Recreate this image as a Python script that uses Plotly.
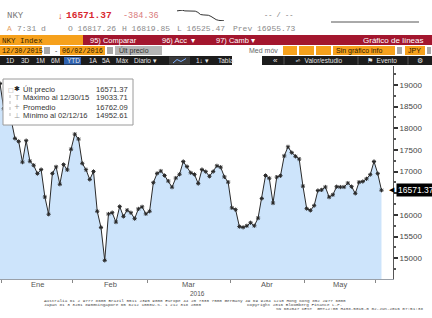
import plotly.graph_objects as go

# ---------------- data ----------------
dates = ["2015-12-30",
         "2016-01-04", "2016-01-05", "2016-01-06", "2016-01-07", "2016-01-08", "2016-01-12", "2016-01-13",
         "2016-01-14", "2016-01-15", "2016-01-18", "2016-01-19", "2016-01-20", "2016-01-21", "2016-01-22",
         "2016-01-25", "2016-01-26", "2016-01-27", "2016-01-28", "2016-01-29",
         "2016-02-01", "2016-02-02", "2016-02-03", "2016-02-04", "2016-02-05", "2016-02-08", "2016-02-09",
         "2016-02-10", "2016-02-12", "2016-02-15", "2016-02-16", "2016-02-17", "2016-02-18", "2016-02-19",
         "2016-02-22", "2016-02-23", "2016-02-24", "2016-02-25", "2016-02-26", "2016-02-29",
         "2016-03-01", "2016-03-02", "2016-03-03", "2016-03-04", "2016-03-07", "2016-03-08", "2016-03-09",
         "2016-03-10", "2016-03-11", "2016-03-14", "2016-03-15", "2016-03-16", "2016-03-17", "2016-03-18",
         "2016-03-22", "2016-03-23", "2016-03-24", "2016-03-25", "2016-03-28", "2016-03-29", "2016-03-30",
         "2016-03-31",
         "2016-04-01", "2016-04-04", "2016-04-05", "2016-04-06", "2016-04-07", "2016-04-08", "2016-04-11",
         "2016-04-12", "2016-04-13", "2016-04-14", "2016-04-15", "2016-04-18", "2016-04-19", "2016-04-20",
         "2016-04-21", "2016-04-22", "2016-04-25", "2016-04-26", "2016-04-27", "2016-04-28",
         "2016-05-02", "2016-05-06", "2016-05-09", "2016-05-10", "2016-05-11", "2016-05-12", "2016-05-13",
         "2016-05-16", "2016-05-17", "2016-05-18", "2016-05-19", "2016-05-20", "2016-05-23", "2016-05-24",
         "2016-05-25", "2016-05-26", "2016-05-27", "2016-05-30", "2016-05-31",
         "2016-06-01", "2016-06-02"]

close = [19033.71,
         18450.98, 18374.00, 18191.32, 17767.34, 17697.96, 17218.96, 17715.63,
         17240.95, 17147.11, 16955.57, 17048.37, 16416.19, 16017.26, 16958.53,
         17110.91, 16708.90, 17163.92, 17041.45, 17518.30,
         17865.23, 17750.68, 17191.25, 17044.99, 16819.59, 17004.30, 16085.44,
         15713.39, 14952.61, 16022.58, 16054.43, 15836.36, 16196.59, 15967.17,
         16111.05, 16052.05, 15915.79, 16140.34, 16188.41, 16026.76,
         16085.51, 16746.55, 16960.16, 17014.78, 16911.32, 16783.15, 16642.20,
         16852.35, 16938.87, 17233.75, 17117.07, 16974.45, 16936.38, 16724.81,
         17048.55, 17000.98, 16892.33, 17002.75, 17134.37, 17103.53, 16878.96,
         16758.67,
         16164.16, 16123.27, 15732.82, 15715.36, 15749.84, 15821.52, 15751.13,
         15928.79, 16381.22, 16911.05, 16848.03, 16275.95, 16874.44, 16906.54,
         17363.62, 17572.49, 17439.30, 17353.28, 17290.49, 16666.05,
         16147.38, 16106.72, 16216.03, 16565.19, 16579.01, 16646.34, 16412.21,
         16466.40, 16652.80, 16644.69, 16646.66, 16736.35, 16654.60, 16498.76,
         16757.35, 16772.46, 16834.84, 16931.45, 17234.98,
         16955.73, 16571.37]

month_labels = {1: "Ene", 2: "Feb", 3: "Mar", 4: "Abr", 5: "May"}
year_label = "2016"

# y-axis ticks (16500 is hidden behind the last-price tag in the reference)
y_tick_vals = [15000, 15500, 16000, 16500, 17000, 17500, 18000, 18500, 19000]
y_tick_text = ["15000", "15500", "16000", "", "17000", "17500", "18000", "18500", "19000"]

# intraday sparkline (header)
intraday = [16800, 16805, 16819, 16800, 16795, 16798, 16790, 16792, 16760, 16700,
            16690, 16685, 16680, 16650, 16600, 16560, 16540, 16530, 16528]

legend_labels = ["Últ precio", "Máximo al 12/30/15", "Promedio", "Mínimo al 02/12/16"]
legend_values = ["16571.37", "19033.71", "16762.09", "14952.61"]
legend_icons = ["✱", "T", "+", "⊥"]

last_price = close[-1]

# ---------------- geometry helpers ----------------
W, H = 432, 318
SANS = "Liberation Sans, Arial, sans-serif"
MONO = "Liberation Mono, DejaVu Sans Mono, monospace"
ORANGE = "#f6a11c"
RED = "#a3162e"
DARK = "#1c1c1c"
GRAY = "#a8a8a8"


def px(x):
    return x / W


def py(y):
    return 1 - y / H


shapes = []
annotations = []


def rect(x0, y0, x1, y1, color, line=None):
    shapes.append(dict(type="rect", xref="paper", yref="paper",
                       x0=px(x0), x1=px(x1), y0=py(y1), y1=py(y0),
                       fillcolor=color, line=line or dict(width=0), layer="above"))


def txt(x, y, s, size=8, color="#333", family=SANS, anchor="left"):
    annotations.append(dict(x=px(x), y=py(y), xref="paper", yref="paper", text=s,
                            showarrow=False, xanchor=anchor, yanchor="middle",
                            borderpad=0, font=dict(size=size, color=color, family=family)))


# ---------------- month ticks computed from dates ----------------
months = [int(d[5:7]) + (0 if d.startswith("2016") else -12) for d in dates]
boundaries = [i - 0.5 for i in range(1, len(dates)) if months[i] != months[i - 1]]
centers = {}
for m in month_labels:
    idx = [i for i, mm in enumerate(months) if mm == m]
    centers[m] = sum(idx) / len(idx)

xs = list(range(len(dates)))
step_px = 3.74
x_range = [0, 393 / step_px]

fig = go.Figure()
fig.add_trace(go.Scatter(
    x=xs, y=close, mode="lines+markers",
    line=dict(color="#2a2a2a", width=1),
    marker=dict(symbol="asterisk-open", size=3.5, line=dict(color="black", width=1)),
    fill="tozeroy", fillcolor="#cde4fb",
    text=dates, hoverinfo="text+y", showlegend=False))

fig.add_trace(go.Scatter(
    x=list(range(len(intraday))), y=intraday, mode="lines",
    line=dict(color="#333", width=1), xaxis="x2", yaxis="y2",
    hoverinfo="skip", showlegend=False))

# ---------------- header ----------------
txt(6, 16, "NKY", 9, "#7a7a7a", MONO)
txt(57, 16, "↓", 9, "#d8262e", SANS)
txt(65, 16, "<b>16571.37</b>", 9.5, "#d8262e", MONO)
txt(122, 16, "-384.36", 8.5, "#d97a7a", MONO)
txt(263, 15, "-- / --", 7, "#777", MONO)
shapes.append(dict(type="line", xref="paper", yref="paper", x0=px(331), x1=px(419),
                   y0=py(22), y1=py(22), line=dict(color="#555", width=1)))

txt(6, 29, "A", 8, "#e7a36a", MONO)
txt(16, 29, "7:31 d", 8, "#888", MONO)
txt(67, 29, "O 16817.26", 8, "#8a8a8a", MONO)
txt(121, 29, "H 16819.85", 8, "#8a8a8a", MONO)
txt(176, 29, "L 16525.47", 8, "#8a8a8a", MONO)
txt(232, 29, "Prev 16955.73", 8, "#8a8a8a", MONO)

# row 3
rect(0, 35, 83, 45, ORANGE)
rect(83, 35, 432, 45, RED)
txt(1, 40.5, "NKY Index", 7.5, "#3a2600", MONO)
txt(89, 40.5, "95) Comparar", 7.5, "white", SANS)
txt(161, 40.5, "96) Acc  ▾", 7.5, "white", SANS)
txt(215, 40.5, "97) Camb ▾", 7.5, "white", SANS)
txt(424, 40.5, "Gráfico de líneas", 8, "white", SANS, "right")

# row 4
rect(0, 46, 42, 55, ORANGE)
rect(44, 47, 50, 54, GRAY)
rect(60, 46, 105, 55, ORANGE)
rect(107, 47, 113, 54, GRAY)
rect(115, 46, 162, 55, "#b5b5b5")
txt(1, 50.5, "12/30/2015", 6.8, "#2a1a00", MONO)
txt(54, 50.5, "-", 7, "#333", SANS)
txt(61, 50.5, "06/02/2016", 6.8, "#2a1a00", MONO)
txt(118, 50.5, "Últ precio", 7, "#333", SANS)
txt(248, 50.5, "Med móv", 7, "#666", SANS)
for a, b in [(283, 297), (299, 314), (316, 331)]:
    rect(a, 46, b, 55, ORANGE)
rect(333, 46, 395, 55, ORANGE)
txt(335, 50.5, "Sin gráfico info", 7, "#2a1a00", SANS)
rect(397, 47, 402, 54, GRAY)
rect(405, 46, 425, 55, ORANGE)
txt(407, 50.5, "JPY", 7, "#2a1a00", SANS)
rect(427, 47, 431, 54, GRAY)

# row 5
rect(0, 56, 232, 65, DARK)
rect(262, 56, 432, 65, DARK)
rect(64, 57, 81, 64.5, "#2f62b0")
for x, s in [(5, "1D"), (20, "3D"), (35, "1M"), (50, "6M"), (66, "YTD"), (88, "1A"),
             (101, "5A"), (115, "Máx"), (133, "Diario ▾")]:
    txt(x, 60.5, s, 6.5, "#e6e6e6", SANS)
rect(169, 56.5, 190, 64.5, "#3a3a3a")
shapes.append(dict(type="path", xref="paper", yref="paper",
                   path=f"M{px(173)},{py(63)} L{px(177)},{py(59.5)} L{px(181)},{py(61.5)} L{px(186)},{py(58.5)}",
                   line=dict(color="#7fb0ff", width=1)))
txt(195, 60.5, "1↓ ▾", 6.5, "#e6e6e6", SANS)
txt(217, 60.5, "Tabla", 6.5, "#e6e6e6", SANS)
txt(272, 60.5, "«", 8, "#e6e6e6", SANS)
txt(294, 60.5, "⩫  Valor/estudio", 6.5, "#e6e6e6", SANS)
txt(366, 60.5, "⚑  Evento", 6.5, "#e6e6e6", SANS)
txt(416, 60.5, "⚙", 7, "#e6e6e6", "DejaVu Sans")
for xs_ in [284, 358, 408]:
    shapes.append(dict(type="line", xref="paper", yref="paper", x0=px(xs_), x1=px(xs_),
                       y0=py(64.5), y1=py(56.5), line=dict(color="#555", width=1)))

# ---------------- legend box ----------------
rect(3, 79, 133, 125, "white", dict(color="#9a9a9a", width=1))
shapes.append(dict(type="line", xref="paper", yref="paper", x0=px(10), x1=px(10),
                   y0=py(116), y1=py(92), line=dict(color="#bbb", width=1, dash="dot")))
txt(7, 89, "□", 6, "#999", "DejaVu Sans")
for k, (lab, val, ic) in enumerate(zip(legend_labels, legend_values, legend_icons)):
    yy = 89 + 9 * k
    txt(13, yy, ic, 7, "#222" if k == 0 else "#999", "DejaVu Sans")
    txt(22, yy, lab, 7.6, "#333", SANS)
    txt(129, yy, val, 7.6, "#333", SANS, "right")

# ---------------- axis labels ----------------
for m, name in month_labels.items():
    annotations.append(dict(x=centers[m], y=py(284.3), xref="x", yref="paper", text=name,
                            showarrow=False, xanchor="center", yanchor="middle", borderpad=0,
                            font=dict(size=7.5, color="#555", family=SANS)))
txt(197, 293.5, year_label, 6.5, "#555", SANS, "center")

# last price tag
annotations.append(dict(x=px(396), y=last_price, xref="paper", yref="y", text="16571.37",
                        showarrow=False, xanchor="left", yanchor="middle", bgcolor="black",
                        borderpad=1, font=dict(size=8.5, color="white", family=SANS)))
annotations.append(dict(x=px(397), y=last_price, xref="paper", yref="y", text="◀",
                        showarrow=False, xanchor="right", yanchor="middle",
                        font=dict(size=7, color="black", family="DejaVu Sans")))

# footer
FOOT = 4.3
txt(43, 300.5, "Australia 61 2 9777 8600 Brazil 5511 2395 9000 Europe 44 20 7330 7500 Germany 49 69 9204 1210 Hong Kong 852 2977 6000", FOOT, "#444", MONO)
txt(43, 304.5, "Japan 81 3 3201 8900", FOOT, "#444", MONO)
txt(94, 304.5, "Singapore 65 6212 1000", FOOT, "#444", MONO)
txt(151, 304.5, "U.S. 1 212 318 2000", FOOT, "#444", MONO)
txt(246, 304.5, "Copyright 2016 Bloomberg Finance L.P.", FOOT, "#444", MONO)
txt(424, 308.5, "SN 602047 CEST  GMT+2:00 H438-5015-0 02-Jun-2016 07:51:38", FOOT, "#444", MONO, "right")

fig.update_layout(
    width=W, height=H,
    margin=dict(l=0, r=0, t=0, b=0),
    paper_bgcolor="white", plot_bgcolor="white",
    showlegend=False,
    xaxis=dict(domain=[0, 393 / W], range=x_range, showline=True, linecolor="#9aa0a8",
               linewidth=1, tickvals=boundaries, ticktext=[""] * len(boundaries),
               ticks="outside", ticklen=3, tickcolor="#888", showgrid=False,
               zeroline=False, fixedrange=True),
    yaxis=dict(domain=[py(279), py(66)], range=[14523, 19438], side="right",
               showline=True, linecolor="#555", linewidth=1,
               tickvals=y_tick_vals, ticktext=y_tick_text, ticks="outside", ticklen=4, tickwidth=2,
               tickcolor="#333", tickfont=dict(size=8, color="#444", family=SANS),
               minor=dict(dtick=250, ticks="outside", ticklen=2, tickcolor="#555"),
               showgrid=False, zeroline=False, fixedrange=True),
    xaxis2=dict(domain=[px(177), px(224)], anchor="y2", visible=False,
                range=[0, len(intraday) - 1]),
    yaxis2=dict(domain=[py(21), py(10)], anchor="x2", visible=False,
                range=[min(intraday) - 5, max(intraday) + 5]),
    shapes=shapes,
    annotations=annotations,
)

fig.write_html("out.html")
